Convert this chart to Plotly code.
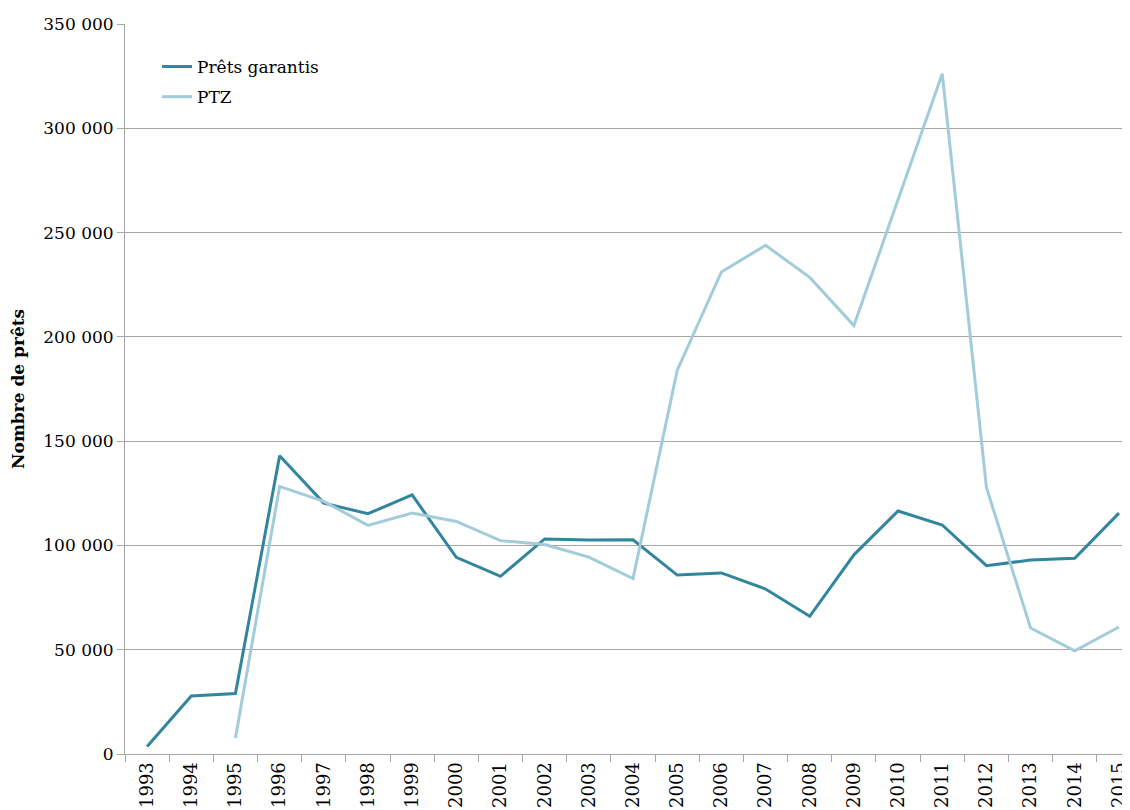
import plotly.graph_objects as go

years = [str(y) for y in range(1993, 2016)]
prets_garantis = [3600, 27800, 29000, 143000, 120300, 115200, 124200, 94300, 85200,
                  103100, 102600, 102700, 85800, 86800, 79100, 66000, 95500, 116500,
                  109800, 90300, 93000, 93800, 115500]
ptz = [None, None, 7700, 128300, 121100, 109600, 115500, 111500, 102300,
       100400, 94400, 84100, 183900, 231100, 243900, 228500, 205400, 266000,
       326200, 127800, 60400, 49500, 60900]
y_tickvals = [0, 50000, 100000, 150000, 200000, 250000, 300000, 350000]
y_ticktext = ["0", "50 000", "100 000", "150 000", "200 000", "250 000", "300 000", "350 000"]

FONT = "DejaVu Serif"
GRID = "#a6a6a6"

fig = go.Figure()
fig.add_trace(go.Scatter(x=years, y=prets_garantis, name="Prêts garantis", mode="lines",
                         legendgroup="a",
                         line=dict(color="#31859C", width=3)))
fig.add_trace(go.Scatter(x=years, y=ptz, name="PTZ", mode="lines",
                         legendgroup="b",
                         line=dict(color="#A2CCDA", width=3), connectgaps=False))

W, H = 1122, 802
L, T, B = 117, 16, 56
plot_w = W - L

fig.update_layout(
    width=W, height=H,
    margin=dict(l=L, r=0, t=T, b=B),
    paper_bgcolor="white", plot_bgcolor="white",
    font=dict(family=FONT, size=17, color="black"),
    showlegend=True,
    legend=dict(x=(157 - 125) / plot_w, y=(754 - 49) / 730, xanchor="left", yanchor="top",
                bgcolor="rgba(0,0,0,0)", font=dict(family=FONT, size=17),
                itemwidth=30, tracegroupgap=5),
    xaxis=dict(type="category", range=[-0.5, 22.25], tickson="boundaries",
               ticks="outside", ticklen=7, tickcolor=GRID, tickangle=-90,
               showgrid=False, showline=True, linecolor=GRID, linewidth=1,
               tickfont=dict(family=FONT, size=18), automargin=False),
    yaxis=dict(range=[0, 350000], tickvals=y_tickvals, ticktext=y_ticktext,
               ticks="outside", ticklen=7, tickcolor=GRID,
               showgrid=True, gridcolor=GRID, gridwidth=1, zeroline=False,
               showline=True, linecolor=GRID, linewidth=1,
               tickfont=dict(family=FONT, size=17), automargin=False),
    annotations=[dict(text="<b>Nombre de prêts</b>", textangle=-90,
                      xref="paper", yref="paper", x=(18 - 125) / plot_w, y=0.5,
                      xanchor="center", yanchor="middle", showarrow=False,
                      font=dict(family=FONT, size=17))],
)

fig.write_html("out.html")
